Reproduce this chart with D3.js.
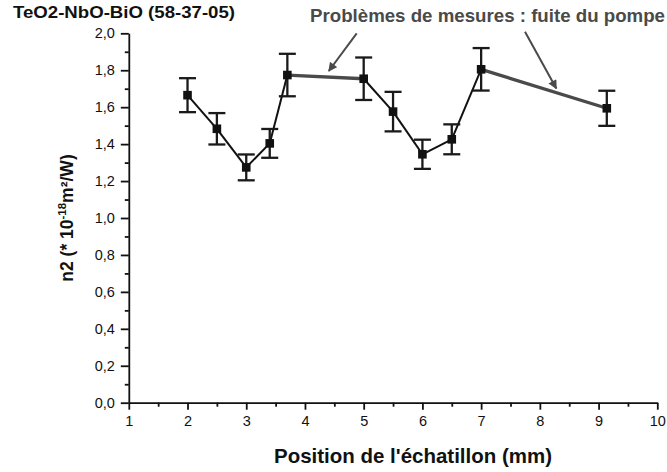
<!DOCTYPE html>
<html><head><meta charset="utf-8">
<script src="https://cdn.jsdelivr.net/npm/d3@7"></script>
<style>body{margin:0;background:#fff}svg{font-family:"Liberation Sans",Arial,sans-serif}</style>
</head><body><svg id="c" width="667" height="472"></svg>
<script>
const positions = [2, 2.5, 3, 3.4, 3.7, 5, 5.5, 6, 6.5, 7, 9.14];
const n2Values  = [1.665, 1.483, 1.274, 1.404, 1.774, 1.754, 1.576, 1.345, 1.426, 1.805, 1.594];
const n2Errors  = [0.092, 0.085, 0.07, 0.078, 0.115, 0.115, 0.107, 0.079, 0.081, 0.115, 0.095];
const problemSegments = [[4, 5], [9, 10]];
const xTicks = [1,2,3,4,5,6,7,8,9,10];
const yTicks = [0,0.2,0.4,0.6,0.8,1.0,1.2,1.4,1.6,1.8,2.0];

const svg = d3.select("#c");
const x = d3.scaleLinear().domain([1,10]).range([128.8,657.3]);
const y = d3.scaleLinear().domain([0,2]).range([402.7,33.3]);
const fmt = d => d3.format(".1f")(d).replace(".", ",");

// minor ticks
const gxm = svg.append("g").attr("transform","translate(0,402.7)")
  .call(d3.axisBottom(x).tickValues(d3.range(1.5,10,1)).tickSize(4).tickFormat(""));
gxm.select(".domain").remove();
const gym = svg.append("g").attr("transform","translate(128.8,0)")
  .call(d3.axisLeft(y).tickValues(d3.range(0.1,2,0.2)).tickSize(4).tickFormat(""));
gym.select(".domain").remove();

const gx = svg.append("g").attr("transform","translate(0,402.7)")
  .call(d3.axisBottom(x).tickValues(xTicks).tickSize(7).tickPadding(6).tickSizeOuter(0).tickFormat(d3.format("d")));
const gy = svg.append("g").attr("transform","translate(128.8,0)")
  .call(d3.axisLeft(y).tickValues(yTicks).tickSize(8).tickPadding(6).tickSizeOuter(0).tickFormat(fmt));
[gx,gy,gxm,gym].forEach(g=>{
  g.selectAll("line").attr("stroke","#111").attr("stroke-width",1.8);
  g.select(".domain").attr("stroke","#111").attr("stroke-width",1.8);
  g.selectAll("text").attr("font-size",14.5).attr("fill","#111").attr("font-family","'Liberation Sans', Arial, sans-serif");
});

const pts = positions.map((p,i)=>({x:p,y:n2Values[i],e:n2Errors[i],i}));
const isProblem = i => problemSegments.some(s=>s[0]===i);

// line segments
for (let i=0;i<pts.length-1;i++){
  const a=pts[i], b=pts[i+1];
  svg.append("line").attr("x1",x(a.x)).attr("y1",y(a.y)).attr("x2",x(b.x)).attr("y2",y(b.y))
    .attr("stroke", isProblem(i) ? "#4a4a4a" : "#111")
    .attr("stroke-width", isProblem(i) ? 3.3 : 2);
}

// error bars
const eb = svg.append("g").attr("stroke","#1a1a1a").attr("stroke-width",2.3);
pts.forEach(d=>{
  eb.append("line").attr("x1",x(d.x)).attr("x2",x(d.x)).attr("y1",y(d.y-d.e)).attr("y2",y(d.y+d.e));
  [d.y-d.e,d.y+d.e].forEach(v=>eb.append("line").attr("x1",x(d.x)-8.5).attr("x2",x(d.x)+8.5).attr("y1",y(v)).attr("y2",y(v)));
});

// markers
svg.append("g").selectAll("rect").data(pts).join("rect")
  .attr("x",d=>x(d.x)-4.3).attr("y",d=>y(d.y)-4.3).attr("width",8.6).attr("height",8.6).attr("fill","#111");

// arrows
const defs = svg.append("defs");
defs.append("marker").attr("id","ah").attr("viewBox","0 0 10 10").attr("refX",9).attr("refY",5)
  .attr("markerWidth",5).attr("markerHeight",4.5).attr("orient","auto")
  .append("path").attr("d","M0,0 L10,5 L0,10 z").attr("fill","#4a4a4a");
svg.append("line").attr("x1",356.7).attr("y1",33.3).attr("x2",328.8).attr("y2",71)
  .attr("stroke","#4a4a4a").attr("stroke-width",2).attr("marker-end","url(#ah)");
svg.append("line").attr("x1",525).attr("y1",31.7).attr("x2",556.3).attr("y2",88.5)
  .attr("stroke","#4a4a4a").attr("stroke-width",2).attr("marker-end","url(#ah)");

// texts
svg.append("text").attr("x",13).attr("y",18.3).attr("font-size",16.5).attr("font-weight","bold").attr("fill","#111")
  .attr("textLength",222).attr("lengthAdjust","spacingAndGlyphs")
  .text("TeO2-NbO-BiO (58-37-05)");
svg.append("text").attr("x",310).attr("y",21.7).attr("font-size",18.5).attr("font-weight","bold").attr("fill","#4a4a4a")
  .attr("textLength",355).attr("lengthAdjust","spacingAndGlyphs")
  .text("Problèmes de mesures : fuite du pompe");
svg.append("text").attr("x",274).attr("y",463).attr("font-size",20.5).attr("font-weight","bold").attr("fill","#111")
  .attr("textLength",278).attr("lengthAdjust","spacingAndGlyphs")
  .text("Position de l'échatillon (mm)");
const yl = svg.append("text").attr("transform","translate(73,218) rotate(-90)").attr("text-anchor","middle")
  .attr("font-size",17.5).attr("font-weight","bold").attr("fill","#111");
yl.append("tspan").text("n2 (* 10");
yl.append("tspan").attr("dy",-7.5).attr("font-size",11.5).text("-18");
yl.append("tspan").attr("dy",7.5).text("m²/W)");
</script></body></html>
